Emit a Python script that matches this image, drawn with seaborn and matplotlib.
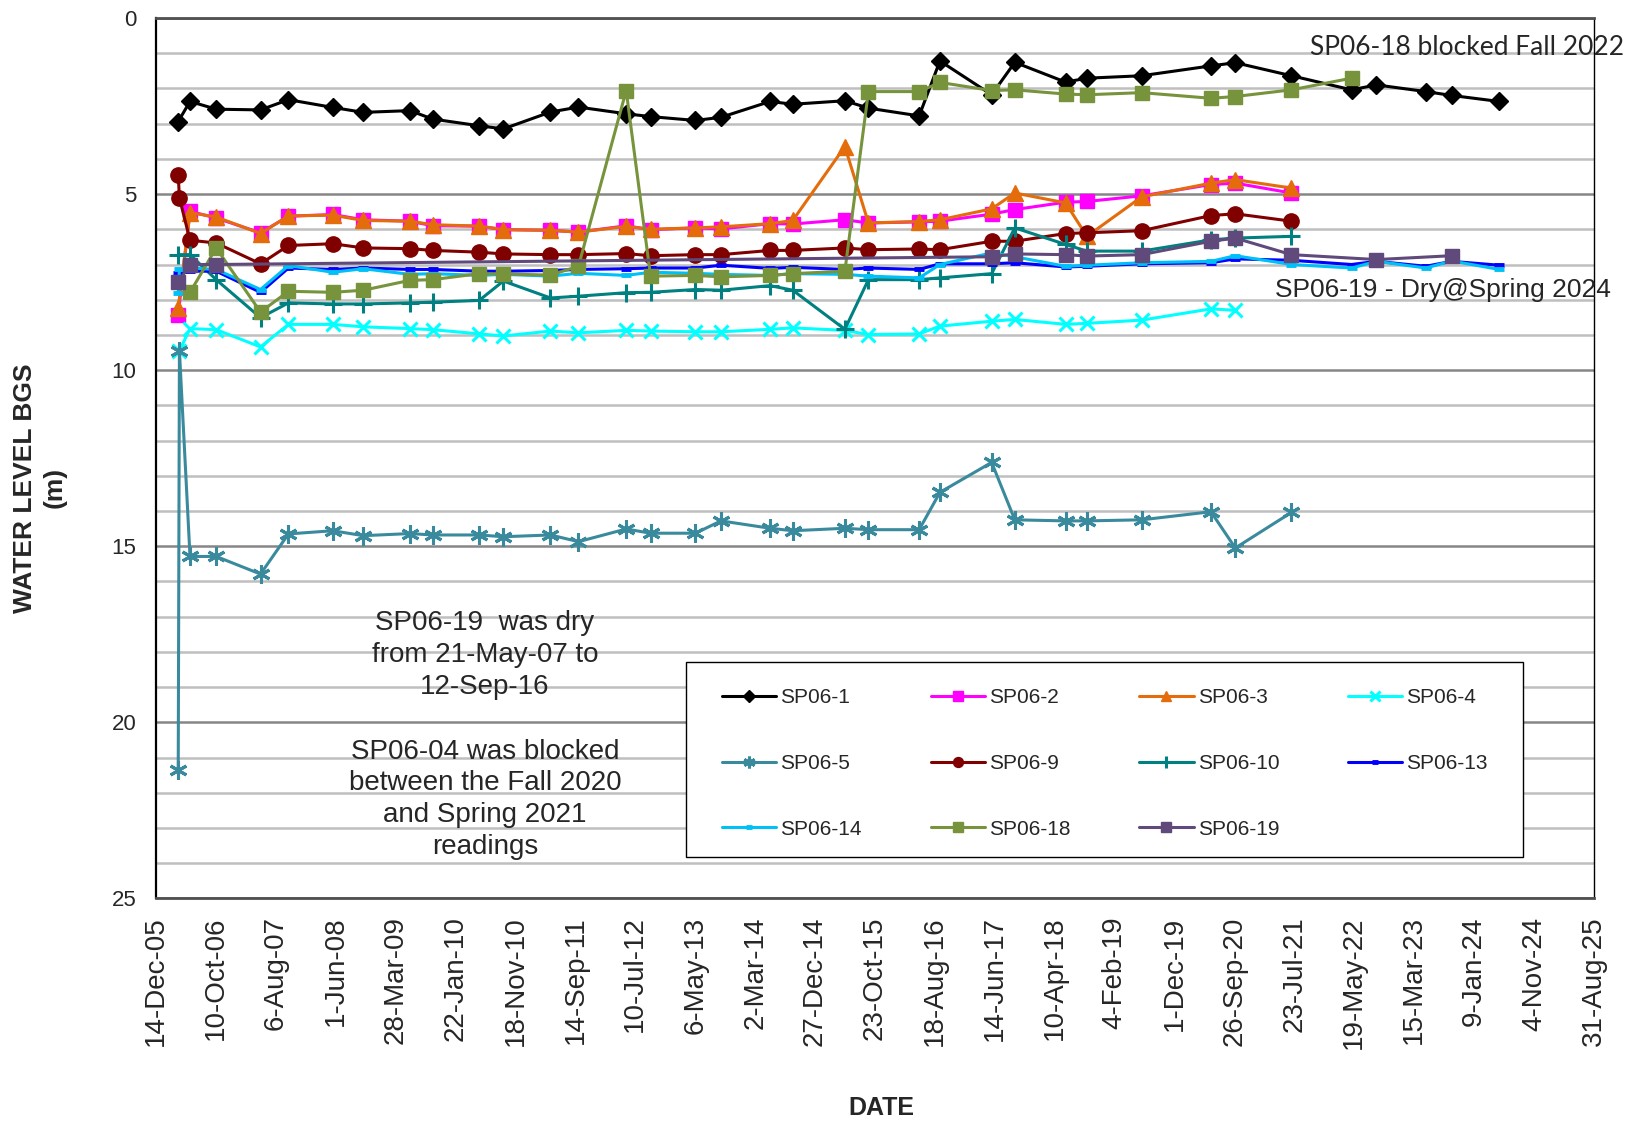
import pandas as pd
import matplotlib.pyplot as plt
import matplotlib.dates as mdates
from matplotlib.patches import Rectangle
from matplotlib.ticker import MultipleLocator
import seaborn as sns

N = None

# sampling dates (two readings close together at the start)
dates = ["2006-04-04", "2006-04-10", "2006-06-02", "2006-10-11", "2007-05-21", "2007-10-08",
         "2008-05-17", "2008-10-17", "2009-06-07", "2009-09-29", "2010-05-20", "2010-09-18",
         "2011-05-12", "2011-09-29", "2012-05-25", "2012-09-24", "2013-05-07", "2013-09-12",
         "2014-05-16", "2014-09-06", "2015-05-25", "2015-09-20", "2016-05-31", "2016-09-12",
         "2017-05-29", "2017-09-22", "2018-06-03", "2018-09-18", "2019-06-19", "2020-05-31",
         "2020-09-30", "2021-07-08", "2022-05-05", "2022-09-07", "2023-05-12", "2023-09-19",
         "2024-05-13"]

# water level below ground surface (m), one list per well
sp06_1 = [2.94, N, 2.37, 2.59, 2.61, 2.32, 2.54, 2.68, 2.63, 2.87, 3.06, 3.15, 2.67, 2.53, 2.72,
          2.80, 2.91, 2.82, 2.37, 2.45, 2.35, 2.56, 2.78, 1.22, 2.18, 1.26, 1.82, 1.71, 1.64,
          1.36, 1.27, 1.64, 2.04, 1.90, 2.09, 2.20, 2.37]
sp06_2 = [8.42, N, 5.49, 5.68, 6.10, 5.63, 5.58, 5.73, 5.77, 5.90, 5.91, 6.01, 6.03, 6.08, 5.90,
          6.01, 5.96, 5.99, 5.84, 5.85, 5.73, 5.82, 5.79, 5.77, 5.57, 5.44, 5.23, 5.21, 5.05,
          4.73, 4.69, 4.97, N, N, N, N, N]
sp06_3 = [8.23, N, 5.53, 5.65, 6.12, 5.62, 5.60, 5.75, 5.77, 5.87, 5.91, 6.01, 6.03, 6.08, 5.92,
          6.00, 5.96, 5.93, 5.84, 5.75, 3.65, 5.82, 5.78, 5.73, 5.42, 4.97, 5.25, 6.20, 5.08,
          4.69, 4.59, 4.83, N, N, N, N, N]
sp06_4 = [N, 9.45, 8.82, 8.85, 9.34, 8.70, 8.70, 8.77, 8.82, 8.85, 8.97, 9.03, 8.89, 8.94, 8.87,
          8.89, 8.91, 8.91, 8.84, 8.80, 8.87, 8.99, 8.97, 8.75, 8.61, 8.56, 8.70, 8.67, 8.58,
          8.26, 8.30, N, N, N, N, N, N]
sp06_5 = [21.36, 9.45, 15.29, 15.29, 15.79, 14.65, 14.56, 14.70, 14.64, 14.68, 14.68, 14.73,
          14.68, 14.87, 14.51, 14.63, 14.63, 14.28, 14.49, 14.56, 14.49, 14.53, 14.53, 13.47,
          12.62, 14.25, 14.28, 14.28, 14.25, 14.02, 15.05, 14.04, N, N, N, N, N]
sp06_9 = [4.45, 5.11, 6.31, 6.39, 6.98, 6.46, 6.41, 6.53, 6.55, 6.60, 6.65, 6.70, 6.72, 6.72,
          6.69, 6.75, 6.72, 6.72, 6.60, 6.60, 6.53, 6.58, 6.56, 6.58, 6.34, 6.34, 6.12, 6.10,
          6.04, 5.61, 5.56, 5.77, N, N, N, N, N]
sp06_10 = [6.72, N, 6.72, 7.43, 8.51, 8.09, 8.12, 8.12, 8.09, 8.07, 8.02, 7.47, 7.95, 7.90, 7.80,
           7.79, 7.71, 7.73, 7.60, 7.73, 8.84, 7.43, 7.43, 7.38, 7.26, 5.96, 6.43, 6.62, 6.62,
           6.30, 6.25, 6.20, N, N, N, N, N]
sp06_13 = [7.25, N, 7.19, 7.19, 7.79, 7.10, 7.14, 7.10, 7.14, 7.14, 7.19, 7.19, 7.17, 7.14, 7.12,
           7.10, 7.10, 7.02, 7.11, 7.08, 7.14, 7.10, 7.14, 6.98, 6.98, 6.95, 7.07, 7.05, 6.98,
           6.95, 6.84, 6.88, 7.00, 6.91, 7.05, 6.91, 7.02]
sp06_14 = [7.80, 7.14, 7.10, 7.14, 7.71, 7.03, 7.22, 7.12, 7.28, 7.26, 7.31, 7.28, 7.33, 7.25,
           7.31, 7.22, 7.25, 7.28, 7.31, 7.26, 7.28, 7.33, 7.38, 7.00, 6.67, 6.78, 7.05, 7.02,
           6.95, 6.91, 6.75, 7.00, 7.10, 6.91, 7.10, 6.90, 7.14]
sp06_18 = [N, N, 7.79, 6.53, 8.35, 7.76, 7.79, 7.73, 7.45, 7.43, 7.26, 7.27, 7.30, 7.05, 2.06,
           7.33, 7.31, 7.35, 7.31, 7.26, 7.19, 2.09, 2.09, 1.83, 2.06, 2.04, 2.16, 2.18, 2.12,
           2.28, 2.23, 2.04, 1.71, N, N, N, N]
sp06_19 = [7.50, N, 7.00, 7.00, N, N, N, N, N, N, N, N, N, N, N, N, N, N, N, N, N, N, N, N,
           6.78, 6.70, 6.72, 6.76, 6.72, 6.34, 6.25, 6.72, N, 6.86, N, 6.75, N]

series = [
    ("SP06-1", sp06_1, "black", "D", 9.5, 1),
    ("SP06-2", sp06_2, "#FF00FF", "s", 10, 1),
    ("SP06-3", sp06_3, "#E46C0A", "^", 11, 1),
    ("SP06-4", sp06_4, "#00FFFF", "x", 10.5, 2.2),
    ("SP06-5", sp06_5, "#3A8A9E", (6, 2, 0), 13, 2.2),
    ("SP06-9", sp06_9, "#800000", "o", 11, 1),
    ("SP06-10", sp06_10, "#008080", "+", 13, 2.2),
    ("SP06-13", sp06_13, "#0000FF", "_", 7, 3.5),
    ("SP06-14", sp06_14, "#00C0F8", "_", 7, 3.5),
    ("SP06-18", sp06_18, "#77933C", "s", 10.5, 1),
    ("SP06-19", sp06_19, "#604A7B", "s", 10.5, 1),
]

sns.set_style("white")
plt.rcParams["font.family"] = ["Liberation Sans", "DejaVu Sans"]

fig = plt.figure(figsize=(16.29, 11.24), dpi=100)
ax = fig.add_axes([0.0958, 0.2007, 0.8827, 0.7833])

for name, vals, color, marker, ms, mew in series:
    df = pd.DataFrame({"date": pd.to_datetime(dates), "level": vals}).dropna()
    sns.lineplot(data=df, x="date", y="level", ax=ax, color=color, marker=marker,
                 markersize=ms, markeredgecolor=color, markerfacecolor=color,
                 markeredgewidth=mew, linewidth=2.2, estimator=None, sort=False, label=name)

# x axis: ticks every 300 days like the spreadsheet chart
start = pd.Timestamp("2005-12-14")
ticks = [start + pd.Timedelta(days=300 * k) for k in range(25)]
tick_labels = [f"{t.day}-{t.strftime('%b')}-{t.strftime('%y')}" for t in ticks]
ax.set_xlim(mdates.date2num(ticks[0]), mdates.date2num(ticks[-1]))
ax.set_xticks([mdates.date2num(t) for t in ticks])
ax.set_xticklabels(tick_labels, rotation=90, fontsize=20)

ax.set_ylim(25, 0)
ax.yaxis.set_major_locator(MultipleLocator(5))
ax.yaxis.set_minor_locator(MultipleLocator(1))
ax.tick_params(axis="y", which="major", labelsize=16, direction="out", length=8, width=1.2, pad=6)
ax.tick_params(axis="y", which="minor", length=0)
ax.tick_params(axis="x", direction="out", length=8, width=1.2, pad=5)
ax.grid(axis="y", which="minor", color="#BFBFBF", linewidth=1.8)
ax.grid(axis="y", which="major", color="#868686", linewidth=1.8)
ax.grid(axis="x", visible=False)
ax.set_axisbelow(True)
ax.set_xlabel("")
ax.set_ylabel("")

for side in ["top", "bottom"]:
    ax.spines[side].set_color("#505050")
    ax.spines[side].set_linewidth(2)
ax.spines["left"].set_color("black")
ax.spines["left"].set_linewidth(1.6)
ax.spines["right"].set_color("black")
ax.spines["right"].set_linewidth(1)

# legend box drawn separately so the entries can sit with Excel-like padding
ax.add_patch(Rectangle((0.3683, 0.0476), 0.5823, 0.2213, transform=ax.transAxes,
                       facecolor="white", edgecolor="black", linewidth=1, zorder=4))
handles, labels = ax.get_legend_handles_labels()
order = [0, 4, 8, 1, 5, 9, 2, 6, 10, 3, 7]
leg = ax.legend([handles[i] for i in order], [labels[i] for i in order], ncol=4,
                loc="upper left", bbox_to_anchor=(0.3936, 0.0, 0.5327, 0.239), mode="expand",
                frameon=False, fontsize=15, borderpad=0, borderaxespad=0,
                labelspacing=2.25, handlelength=2.6, handletextpad=0.2, markerscale=0.65)
leg.set_zorder(5)

fig.text(0.0245, 0.566, "WATER LEVEL BGS\n(m)", rotation=90, ha="center", va="center",
         fontsize=19, fontweight="bold", linespacing=1.3, multialignment="center")
fig.text(0.541, 0.0142, "DATE", ha="center", va="center", fontsize=18, fontweight="bold")

fig.text(0.804, 0.951, "SP06-18 blocked Fall 2022", ha="left", va="baseline", fontsize=19,
         family="Lato")
fig.text(0.7827, 0.7358, "SP06-19 - Dry@Spring 2024", ha="left", va="baseline", fontsize=19)
fig.text(0.2977, 0.4173, "SP06-19  was dry\nfrom 21-May-07 to\n12-Sep-16", ha="center",
         va="center", fontsize=20, linespacing=1.28)
fig.text(0.2977, 0.289, "SP06-04 was blocked\nbetween the Fall 2020\nand Spring 2021\nreadings",
         ha="center", va="center", fontsize=20, linespacing=1.28)

fig.savefig("out.png", dpi=100)
